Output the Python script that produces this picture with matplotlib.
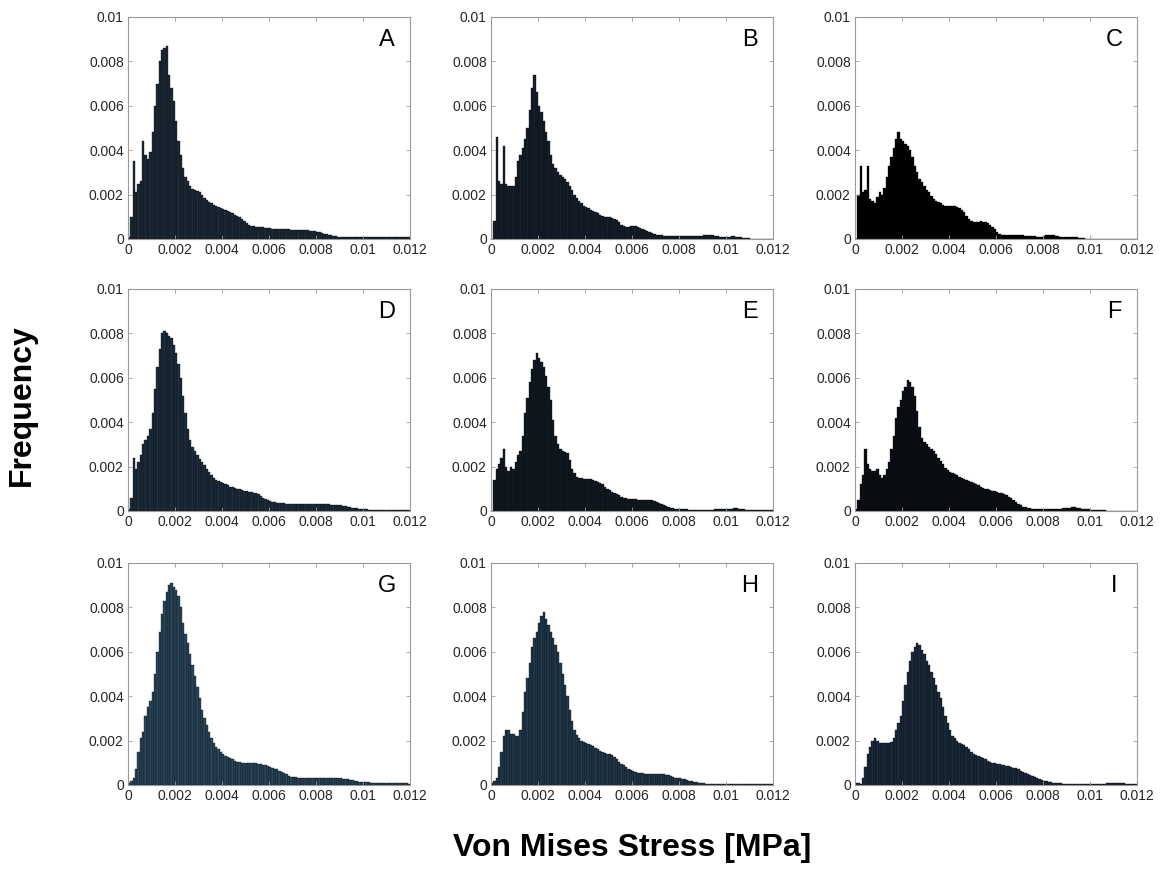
import matplotlib
matplotlib.use("Agg")
import matplotlib.pyplot as plt
import numpy as np

plt.rcParams['font.family'] = ['Liberation Sans', 'DejaVu Sans']

# Histogram bins: 120 bins of 0.0001 MPa from 0 to 0.012
bin_width = 0.0001
bin_edges = np.arange(0, 0.012 + bin_width / 2, bin_width)

# Normalised frequencies per bin, in units of 1e-4
freq_a = [1, 10, 35, 21, 25, 26, 44, 38, 36, 39,
          48, 60, 70, 80, 85, 86, 87, 74, 68, 62,
          53, 44, 38, 32, 28, 26, 24, 22.5, 22, 21.5,
          21, 20, 18.5, 17.5, 16.5, 16, 15.5, 15, 14.5, 14,
          13.5, 13, 12.5, 12, 11.5, 11, 10.5, 10, 9, 8,
          7, 6.5, 6, 5.8, 5.5, 5.4, 5.3, 5.2, 5, 4.9,
          4.8, 4.7, 4.6, 4.5, 4.5, 4.4, 4.4, 4.3, 4.3, 4.2,
          4.2, 4.1, 4.1, 4, 4, 3.9, 3.9, 3.8, 3.8, 3.6,
          3.3, 3, 2.7, 2.4, 2.1, 1.8, 1.6, 1.4, 1.2, 1.0,
          0.9, 0.8, 0.8, 0.8, 0.8, 0.8, 0.8, 0.8, 0.8, 0.9,
          0.9, 0.9, 1.0, 1.0, 1.0, 1.0, 0.9, 0.9, 1.0, 1.0,
          1.1, 1.1, 1.0, 1.0, 1.0, 0.9, 0.9, 0.9, 0.8, 0.8]

freq_b = [0, 8, 46, 26, 25, 42, 25, 24, 24, 24,
          28, 35, 38, 41, 45, 50, 58, 68, 74, 66,
          60, 57, 53, 48, 44, 38, 34, 32, 30, 29,
          28, 27, 25.5, 24, 22, 20, 18.5, 17, 16, 15,
          14.5, 14, 13, 12.5, 12, 11.5, 11, 10.5, 10, 10,
          9.8, 9.5, 9, 8.5, 7.5, 6.5, 6, 5.5, 5.3, 5.8,
          6, 5.8, 5.5, 5, 4.5, 4, 3.5, 3, 2.6, 2.2,
          2, 1.8, 1.6, 1.5, 1.5, 1.5, 1.5, 1.5, 1.5, 1.4,
          1.4, 1.4, 1.3, 1.3, 1.3, 1.3, 1.3, 1.3, 1.4, 1.5,
          1.7, 1.9, 2.0, 1.9, 1.7, 1.4, 1.2, 1.0, 0.9, 0.9,
          1.0, 1.1, 1.2, 1.2, 1.1, 1.0, 0.8, 0.6, 0.4, 0.3,
          0.2, 0.1, 0.1, 0.05, 0, 0, 0, 0, 0, 0]

freq_c = [0, 20, 33, 21, 22, 33, 18, 17, 16, 19,
          21, 20, 23, 28, 33, 37, 41, 45, 48, 45,
          44, 43, 42, 40, 37, 33, 30, 27, 25.5, 24,
          22, 21, 19.5, 18, 17, 16.5, 16, 15.5, 15, 15,
          15, 15, 15, 14.5, 14, 13, 12, 10.5, 9, 8,
          7.5, 7.5, 7.8, 8, 7.8, 7.5, 7, 6.2, 5.5, 4.5,
          3, 2.2, 2, 2, 2, 2, 2, 1.9, 1.8, 1.8,
          1.7, 1.6, 1.5, 1.5, 1.4, 1.3, 1.2, 1.1, 1.0, 1.0,
          1.2, 1.6, 2, 2, 1.8, 1.5, 1.2, 0.9, 0.8, 0.8,
          0.8, 0.9, 1.0, 1.0, 0.9, 0.6, 0.4, 0.3, 0.2, 0.1,
          0.05, 0, 0, 0, 0, 0, 0, 0, 0, 0,
          0, 0, 0, 0, 0, 0, 0, 0, 0, 0]

freq_d = [1, 6, 24, 19, 22, 25, 30, 32, 34, 37,
          44, 55, 65, 73, 80, 81, 80, 79, 78, 75,
          71, 66, 60, 52, 44, 37, 32, 29, 27, 25,
          23.5, 22, 20.5, 19, 17.5, 16, 15, 14, 13.5, 13,
          12.5, 12, 11.5, 11, 11, 10.5, 10, 10, 9.5, 9,
          8.8, 8.6, 8.4, 8.2, 8, 7.5, 6.8, 6, 5.5, 5,
          4.5, 4.2, 4, 3.8, 3.6, 3.5, 3.4, 3.3, 3.2, 3.1,
          3, 3, 3, 3, 3, 3, 3, 3, 3, 3,
          3, 3, 3.1, 3.1, 3, 3, 2.9, 2.8, 2.7, 2.6,
          2.5, 2.3, 2.1, 1.9, 1.7, 1.5, 1.3, 1.2, 1.0, 0.9,
          0.8, 0.7, 0.6, 0.5, 0.5, 0.5, 0.5, 0.5, 0.5, 0.5,
          0.5, 0.5, 0.5, 0.5, 0.5, 0.5, 0.5, 0.5, 0.5, 0.5]

freq_e = [0, 14, 19, 21, 24, 28, 20, 18, 20, 19,
          22, 25, 27, 34, 44, 51, 58, 64, 68, 71,
          69, 67, 65, 61, 56, 50, 41, 34, 30, 28,
          27, 26.5, 26, 23, 19, 17, 15.5, 15, 14.8, 14.6,
          14.5, 14.5, 14.5, 14, 13.5, 13, 12.5, 12, 11, 10,
          9.5, 8.5, 8, 7.5, 7, 6.5, 6, 5.8, 5.6, 5.5,
          5.3, 5.2, 5, 5, 5, 5, 5, 4.9, 4.8, 4.5,
          4.2, 3.8, 3.3, 2.8, 2.2, 1.7, 1.4, 1.2, 1.0, 0.9,
          0.8, 0.8, 0.7, 0.7, 0.6, 0.6, 0.5, 0.5, 0.5, 0.5,
          0.5, 0.5, 0.5, 0.6, 0.6, 0.7, 0.8, 0.8, 0.9, 1.0,
          1.0, 1.1, 1.1, 1.2, 1.2, 1.1, 1.0, 0.8, 0.6, 0.5,
          0.4, 0.4, 0.3, 0.3, 0.3, 0.3, 0.3, 0.3, 0.3, 0.3]

freq_f = [1, 5, 12, 16, 28, 21, 19, 18, 18, 19,
          16, 15, 16, 19, 22, 28, 34, 42, 47, 50,
          54, 56, 59, 58, 56, 52, 45, 38, 33, 31,
          30, 29, 28, 27, 25.5, 24, 22.5, 21, 19.5, 18.5,
          17.5, 17, 16.5, 16, 15.5, 15, 14.5, 14, 13.5, 13,
          12.5, 12, 11.5, 11, 10.5, 10, 10, 9.5, 9, 9,
          8.5, 8, 8, 7.5, 7, 6.5, 6, 5, 4, 3.2,
          2.6, 2, 1.6, 1.4, 1.2, 1.1, 1.0, 1.0, 1.0, 1.0,
          1.0, 1.0, 1.0, 1.0, 1.0, 1.0, 1.0, 1.1, 1.2, 1.3,
          1.4, 1.5, 1.6, 1.6, 1.5, 1.3, 1.1, 0.9, 0.8, 0.7,
          0.6, 0.6, 0.5, 0.5, 0.4, 0.3, 0.3, 0.2, 0.2, 0.1,
          0.1, 0.05, 0.05, 0, 0, 0, 0, 0, 0, 0]

freq_g = [1, 2, 3, 7, 15, 21, 24, 31, 35, 38,
          42, 50, 60, 69, 77, 83, 87, 90, 91, 89,
          88, 85, 80, 73, 68, 64, 59, 54, 49, 44,
          39, 34, 30, 27, 24, 21, 19, 17, 16, 15,
          14, 13, 12.5, 12, 11.5, 11, 10.5, 10.5, 10, 10,
          10, 10, 10, 10, 9.8, 9.6, 9.4, 9.2, 9, 8.6,
          8.2, 7.8, 7.4, 7, 6.5, 6, 5.5, 4.8, 4.2, 3.8,
          3.6, 3.5, 3.3, 3.2, 3.1, 3, 3, 3, 3, 3,
          3, 3, 3, 3, 3, 3, 3, 3, 3, 3,
          3, 2.9, 2.8, 2.6, 2.4, 2.2, 1.9, 1.6, 1.4, 1.3,
          1.2, 1.2, 1.2, 1.1, 1.1, 1.1, 1.0, 1.0, 1.0, 1.0,
          0.9, 0.9, 0.9, 0.8, 0.8, 0.8, 0.8, 0.7, 0.7, 0.6]

freq_h = [1, 2, 3, 8, 15, 22, 25, 25, 23, 23,
          22, 22, 25, 33, 42, 48, 55, 62, 66, 69,
          73, 76, 78, 75, 72, 69, 66, 63, 60, 55,
          50, 45, 40, 34, 29, 25, 22.5, 21, 20, 19.5,
          19, 18.5, 18, 17.5, 16.5, 16, 15.5, 15, 14.5, 14,
          14, 13.5, 12.5, 11.5, 10.5, 9.5, 8.8, 8, 7.3, 6.7,
          6.3, 5.9, 5.6, 5.4, 5.2, 5, 5, 5, 5, 5,
          5, 5, 5, 4.8, 4.5, 4.3, 4, 3.6, 3.3, 3.1,
          3, 2.8, 2.5, 2.2, 2, 1.8, 1.5, 1.2, 1.0, 0.8,
          0.7, 0.6, 0.5, 0.5, 0.5, 0.5, 0.4, 0.4, 0.4, 0.4,
          0.4, 0.4, 0.4, 0.4, 0.4, 0.4, 0.4, 0.3, 0.3, 0.3,
          0.3, 0.3, 0.3, 0.3, 0.3, 0.3, 0.3, 0.3, 0.3, 0.3]

freq_i = [1, 1, 0.5, 3, 8, 14, 17, 20, 21, 20,
          19, 19, 19, 19, 19, 19.5, 21, 25, 28, 31,
          38, 45, 51, 56, 60, 62, 64, 63, 61, 59,
          56, 54, 51, 48, 45, 42, 39, 35, 31, 28,
          25, 22, 21, 20, 19, 18.5, 18, 17, 16, 15,
          14, 13.5, 13, 12.5, 12, 11.5, 11, 10.5, 10, 9.8,
          9.6, 9.4, 9.2, 9, 8.7, 8.4, 8.1, 7.8, 7.5, 7,
          6.5, 6, 5.5, 5, 4.5, 4, 3.5, 3, 2.6, 2.2,
          2, 1.7, 1.4, 1.2, 1.0, 0.9, 0.8, 0.7, 0.6, 0.6,
          0.5, 0.5, 0.5, 0.5, 0.5, 0.5, 0.5, 0.5, 0.5, 0.5,
          0.5, 0.5, 0.5, 0.6, 0.6, 0.6, 0.6, 0.7, 0.7, 0.7,
          0.8, 0.8, 0.8, 0.8, 0.7, 0.6, 0.5, 0.4, 0.3, 0.3]

panel_labels = ["A", "B", "C", "D", "E", "F", "G", "H", "I"]
panel_freqs = [freq_a, freq_b, freq_c, freq_d, freq_e, freq_f, freq_g, freq_h, freq_i]
panel_colors = ["#1c2a38", "#15202b", "#000000",
                "#1e2e3e", "#111a22", "#0a0e12",
                "#2b475c", "#243a4c", "#1b2c3b"]

x_ticks = [0, 0.002, 0.004, 0.006, 0.008, 0.01, 0.012]
x_tick_labels = ["0", "0.002", "0.004", "0.006", "0.008", "0.01", "0.012"]
y_ticks = [0, 0.002, 0.004, 0.006, 0.008, 0.01]
y_tick_labels = ["0", "0.002", "0.004", "0.006", "0.008", "0.01"]

W, H = 1166, 877
fig = plt.figure(figsize=(W / 100, H / 100), dpi=100)

col_left = [128, 491, 855]
row_top = [17, 289, 563]
ax_w, ax_h = 282, 222

for k, (label, freqs, color) in enumerate(zip(panel_labels, panel_freqs, panel_colors)):
    r, c = divmod(k, 3)
    ax = fig.add_axes([col_left[c] / W, 1 - (row_top[r] + ax_h) / H, ax_w / W, ax_h / H])
    heights = np.array(freqs) * 1e-4
    # filled outline underneath so no white seams show between the bars
    ax.stairs(heights, bin_edges, fill=True, color=color, linewidth=0)
    ax.bar(bin_edges[:-1], heights, width=bin_width, align='edge',
           color=color, edgecolor='#05080b', linewidth=0.25)
    ax.set_xlim(0, 0.012)
    ax.set_ylim(0, 0.01)
    ax.set_xticks(x_ticks)
    ax.set_xticklabels(x_tick_labels)
    ax.set_yticks(y_ticks)
    ax.set_yticklabels(y_tick_labels)
    ax.tick_params(direction='in', length=3, width=0.6, colors='#9a9a9a',
                   labelcolor='#262626', labelsize=10, top=True, right=True, pad=3)
    for spine in ax.spines.values():
        spine.set_color('#9a9a9a')
        spine.set_linewidth(0.8)
    ax.text(0.918, 0.895, label, transform=ax.transAxes, ha='center', va='center',
            fontsize=17, color='black')

fig.text(22 / W, 1 - 405 / H, "Frequency", rotation=90, ha='center', va='center',
         fontsize=23, fontweight='bold')
fig.text(632 / W, 1 - 848 / H, "Von Mises Stress [MPa]", ha='center', va='center',
         fontsize=23, fontweight='bold')

fig.savefig("out.png", dpi=100, facecolor='white')
